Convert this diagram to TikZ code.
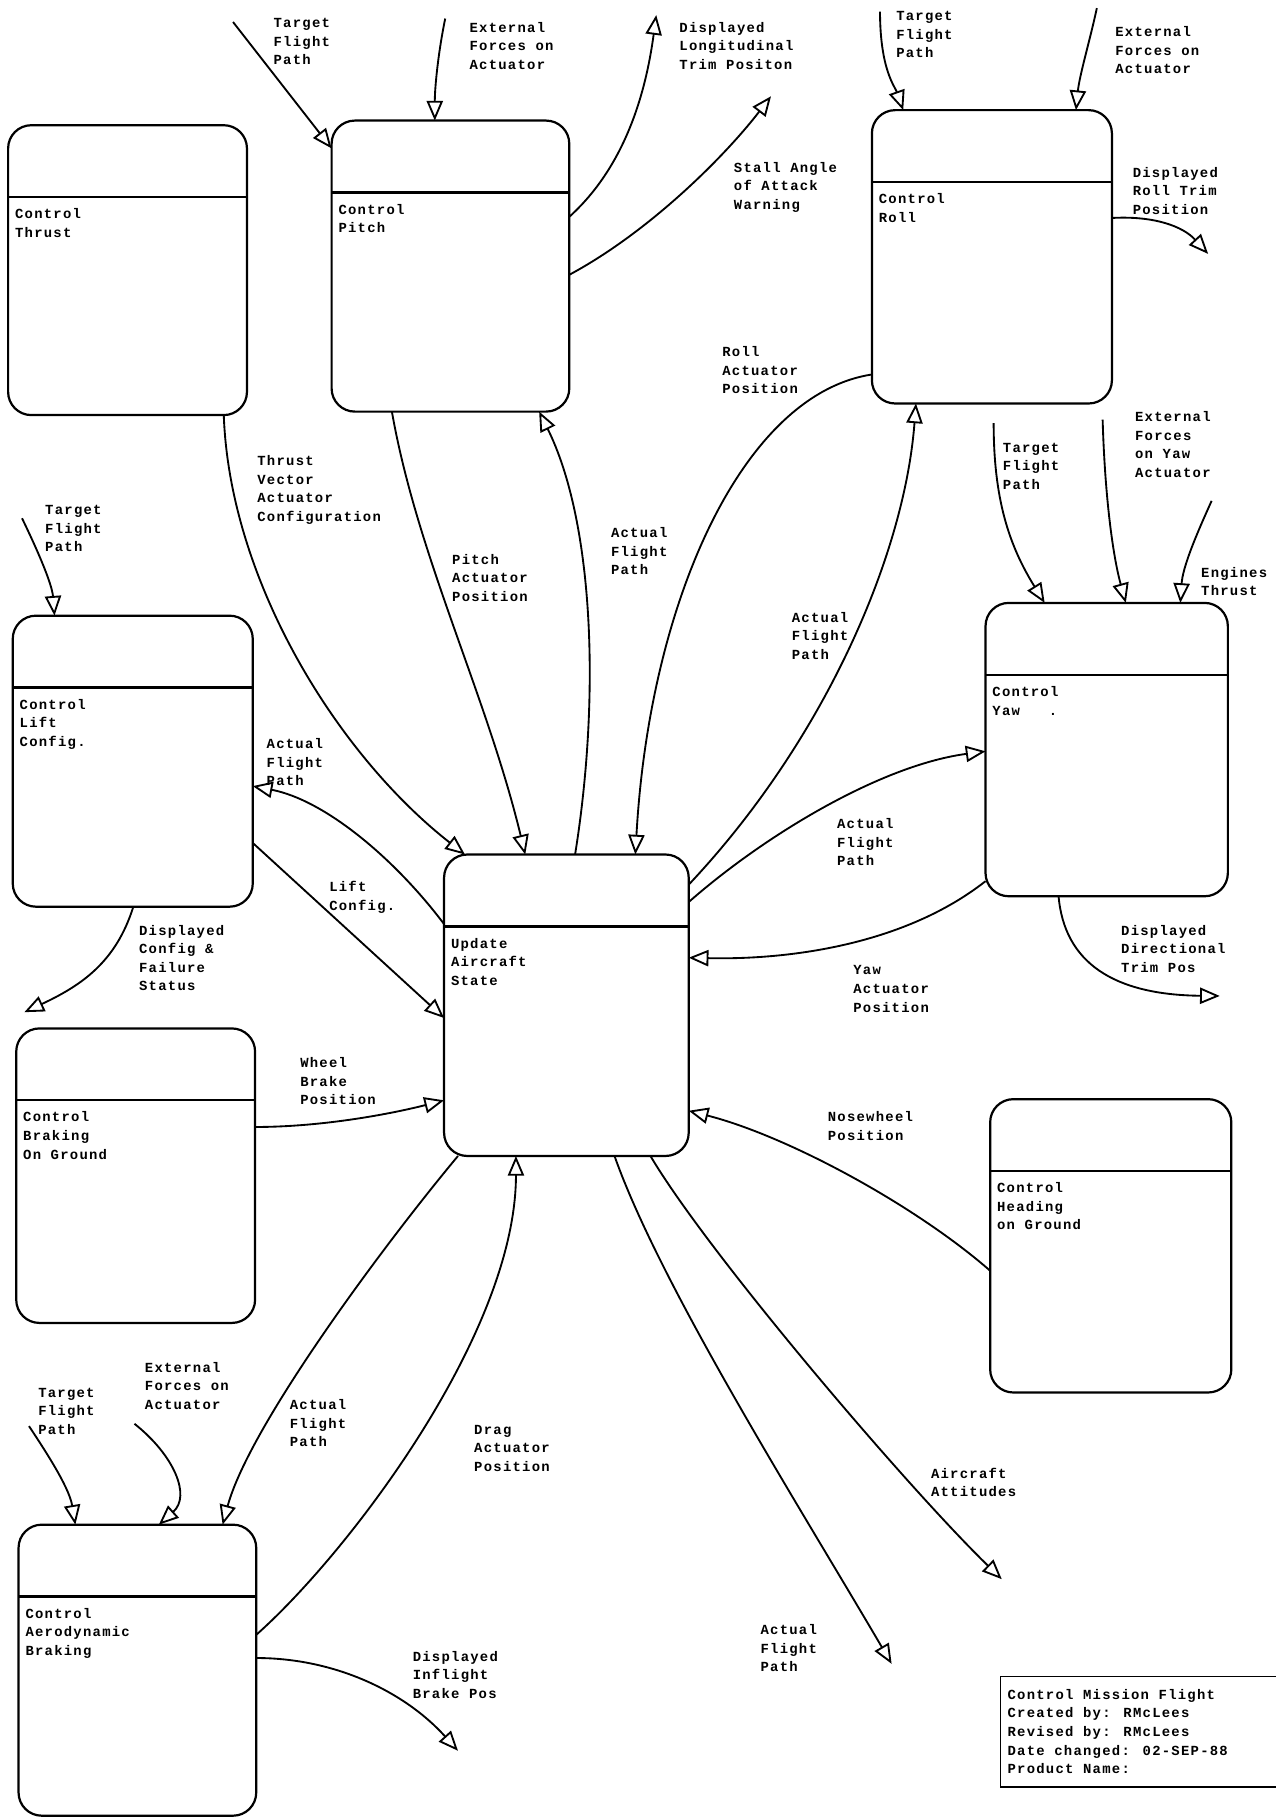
\documentclass[tikz,border=0pt]{standalone}
\usepackage{fontspec}
\usetikzlibrary{arrows.meta}
\newfontfamily\lblfont[LetterSpace=9]{Liberation Mono}
\newcommand{\procbox}[6]{%
  \node[pbox, minimum width=#4pt, minimum height=#5pt, anchor=north west] (#1) at (#2,#3) {};
  \draw[boxline] ([yshift=-62pt]#1.north west) -- ([yshift=-62pt]#1.north east);
  \node[lbl] (#1-t) at ([xshift=6pt,yshift=-72pt]#1.north west) {#6};
}
\tikzset{
  pbox/.style={draw, line width=1.9pt, rounded corners=20pt, inner sep=0pt, outer sep=0pt},
  boxline/.style={line width=1.9pt},
  lbl/.style={inner sep=0pt, outer sep=0pt, align=left, anchor=north west,
    font=\lblfont\bfseries\fontsize{12}{16}\selectfont},
  flow/.style={line width=1.6pt, -{Triangle[open, length=17pt, width=14pt]}},
}
\begin{document}
\begin{tikzpicture}[x=1pt,y=-1pt]
\useasboundingbox[fill=white] (0,0) rectangle (1100,1568);

% process boxes
\procbox{thrust}{7}{108}{206}{250}{Control\\Thrust}
\procbox{pitch}{286}{104}{205}{251}{Control\\Pitch}
\procbox{roll}{752}{95}{207}{253}{Control\\Roll}
\procbox{lift}{11}{531}{207}{251}{Control\\Lift\\Config.}
\procbox{update}{383}{737}{211}{260}{Update\\Aircraft\\State}
\procbox{yaw}{850}{520}{209}{253}{Control\\Yaw~~~.}
\procbox{braking}{14}{887}{206}{254}{Control\\Braking\\On Ground}
\procbox{heading}{854}{948}{208}{253}{Control\\Heading\\on Ground}
\procbox{aero}{16}{1315}{205}{251}{Control\\Aerodynamic\\Braking}

% title block
\node[draw, line width=1.5pt, inner sep=0pt, outer sep=0pt, anchor=north west,
  minimum width=240pt, minimum height=95pt] (title) at (863,1446) {};
\node[lbl] (title-t) at ([xshift=6pt,yshift=-11pt]title.north west)
  {Control Mission Flight\\Created by: RMcLees\\Revised by: RMcLees\\Date changed: 02-SEP-88\\Product Name:};

% free ends
\coordinate (c1) at (201,19);
\coordinate (c2) at (384,16);
\coordinate (c3) at (566,13);
\coordinate (c4) at (665,83);
\coordinate (c5) at (759,10);
\coordinate (c6) at (946,7);
\coordinate (c7) at (1042,219);
\coordinate (c13) at (19,447);
\coordinate (c16) at (21,873);
\coordinate (c20) at (25,1230);
\coordinate (c21) at (116,1228);
\coordinate (c22) at (395,1510);
\coordinate (c23) at (769,1435);
\coordinate (c24) at (864,1362);
\coordinate (c28) at (1052,859);
\coordinate (c29) at (857,365);
\coordinate (c30) at (951,362);
\coordinate (c31) at (1045,432);

% connectors: pitch
\draw[flow] (c1) -- ([yshift=-24pt]pitch.north west);
\draw[flow] (c2) .. controls (378,45) and (375,75) .. ([xshift=89pt]pitch.north west);
\draw[flow] ([yshift=-83pt]pitch.north east) .. controls (532,150) and (555,95) .. (c3);
\draw[flow] ([yshift=-133pt]pitch.north east) .. controls (560,200) and (625,135) .. (c4);
% roll
\draw[flow] (c5) .. controls (759,60) and (772,75) .. ([xshift=27pt]roll.north west);
\draw[flow] (c6) .. controls (940,35) and (931,65) .. ([xshift=176pt]roll.north west);
\draw[flow] ([yshift=-93pt]roll.north east) .. controls (995,186) and (1020,195) .. (c7);
\draw[flow] ([yshift=-228pt]roll.north west) .. controls (640,340) and (560,520) .. ([xshift=165pt]update.north west);
\draw[flow] ([yshift=-26pt]update.north east) .. controls (710,640) and (780,480) .. ([xshift=38pt]roll.south west);
% pitch / update
\draw[flow] ([xshift=113pt]update.north west) .. controls (518,600) and (512,450) .. ([xshift=179pt]pitch.south west);
\draw[flow] ([xshift=52pt]pitch.south west) .. controls (360,480) and (420,600) .. ([xshift=70pt]update.north west);
\draw[flow] ([xshift=186pt]thrust.south west) .. controls (198,500) and (290,650) .. ([xshift=18pt]update.north west);
% lift
\draw[flow] (c13) .. controls (35,480) and (45,505) .. ([xshift=36pt]lift.north west);
\draw[flow] ([yshift=-60pt]update.north west) .. controls (340,740) and (280,690) .. ([yshift=-147pt]lift.north east);
\draw[flow] ([yshift=-196pt]lift.north east) -- ([yshift=-141pt]update.north west);
\draw[flow] ([xshift=104pt]lift.south west) .. controls (100,830) and (70,850) .. (c16);
% braking
\draw[flow] ([yshift=-85pt]braking.north east) .. controls (280,972) and (340,960) .. ([yshift=-212pt]update.north west);
% aero
\draw[flow] ([xshift=12pt]update.south west) .. controls (330,1075) and (215,1230) .. ([xshift=176pt]aero.north west);
\draw[flow] ([yshift=-95pt]aero.north east) .. controls (300,1340) and (445,1150) .. ([xshift=62pt]update.south west);
\draw[flow] (c20) .. controls (45,1260) and (60,1285) .. ([xshift=49pt]aero.north west);
\draw[flow] (c21) .. controls (150,1255) and (165,1290) .. ([xshift=121pt]aero.north west);
\draw[flow] ([yshift=-115pt]aero.north east) .. controls (290,1430) and (350,1460) .. (c22);
% update outputs
\draw[flow] ([xshift=147pt]update.south west) .. controls (570,1110) and (690,1300) .. (c23);
\draw[flow] ([xshift=178pt]update.south west) .. controls (610,1080) and (780,1280) .. (c24);
% heading
\draw[flow] ([yshift=-148pt]heading.north west) .. controls (790,1040) and (680,980) .. ([yshift=-221pt]update.north east);
% yaw
\draw[flow] ([yshift=-240pt]yaw.north west) .. controls (780,815) and (680,828) .. ([yshift=-89pt]update.north east);
\draw[flow] ([yshift=-41pt]update.north east) .. controls (660,720) and (760,660) .. ([yshift=-128pt]yaw.north west);
\draw[flow] ([xshift=63pt]yaw.south west) .. controls (918,830) and (960,858) .. (c28);
\draw[flow] (c29) .. controls (857,430) and (870,470) .. ([xshift=51pt]yaw.north west);
\draw[flow] (c30) .. controls (953,430) and (960,480) .. ([xshift=121pt]yaw.north west);
\draw[flow] (c31) .. controls (1030,465) and (1020,490) .. ([xshift=168pt]yaw.north west);

% labels
\node[lbl] (l1) at (236,16) {Target\\Flight\\Path};
\node[lbl] (l2) at (405,19) {External\\Forces on\\Actuator};
\node[lbl] (l3) at (586,19) {Displayed\\Longitudinal\\Trim Positon};
\node[lbl] (l4) at (633,140) {Stall Angle\\of Attack\\Warning};
\node[lbl] (l5) at (773,10) {Target\\Flight\\Path};
\node[lbl] (l6) at (962,23) {External\\Forces on\\Actuator};
\node[lbl] (l7) at (977,144) {Displayed\\Roll Trim\\Position};
\node[lbl] (l8) at (623,299) {Roll\\Actuator\\Position};
\node[lbl] (l9) at (222,393) {Thrust\\Vector\\Actuator\\Configuration};
\node[lbl] (l10) at (39,436) {Target\\Flight\\Path};
\node[lbl] (l11) at (390,478) {Pitch\\Actuator\\Position};
\node[lbl] (l12) at (527,455) {Actual\\Flight\\Path};
\node[lbl] (l13) at (683,528) {Actual\\Flight\\Path};
\node[lbl] (l14) at (865,382) {Target\\Flight\\Path};
\node[lbl] (l15) at (979,355) {External\\Forces\\on Yaw\\Actuator};
\node[lbl] (l16) at (1036,489) {Engines\\Thrust};
\node[lbl] (l17) at (230,637) {Actual\\Flight\\Path};
\node[lbl] (l18) at (284,760) {Lift\\Config.};
\node[lbl] (l19) at (722,706) {Actual\\Flight\\Path};
\node[lbl] (l20) at (120,798) {Displayed\\Config \&\\Failure\\Status};
\node[lbl] (l21) at (736,833) {Yaw\\Actuator\\Position};
\node[lbl] (l22) at (967,798) {Displayed\\Directional\\Trim Pos};
\node[lbl] (l23) at (259,912) {Wheel\\Brake\\Position};
\node[lbl] (l24) at (714,959) {Nosewheel\\Position};
\node[lbl] (l25) at (33,1197) {Target\\Flight\\Path};
\node[lbl] (l26) at (125,1175) {External\\Forces on\\Actuator};
\node[lbl] (l27) at (250,1207) {Actual\\Flight\\Path};
\node[lbl] (l28) at (409,1229) {Drag\\Actuator\\Position};
\node[lbl] (l29) at (803,1266) {Aircraft\\Attitudes};
\node[lbl] (l30) at (656,1401) {Actual\\Flight\\Path};
\node[lbl] (l31) at (356,1424) {Displayed\\Inflight\\Brake Pos};
\end{tikzpicture}
\end{document}
